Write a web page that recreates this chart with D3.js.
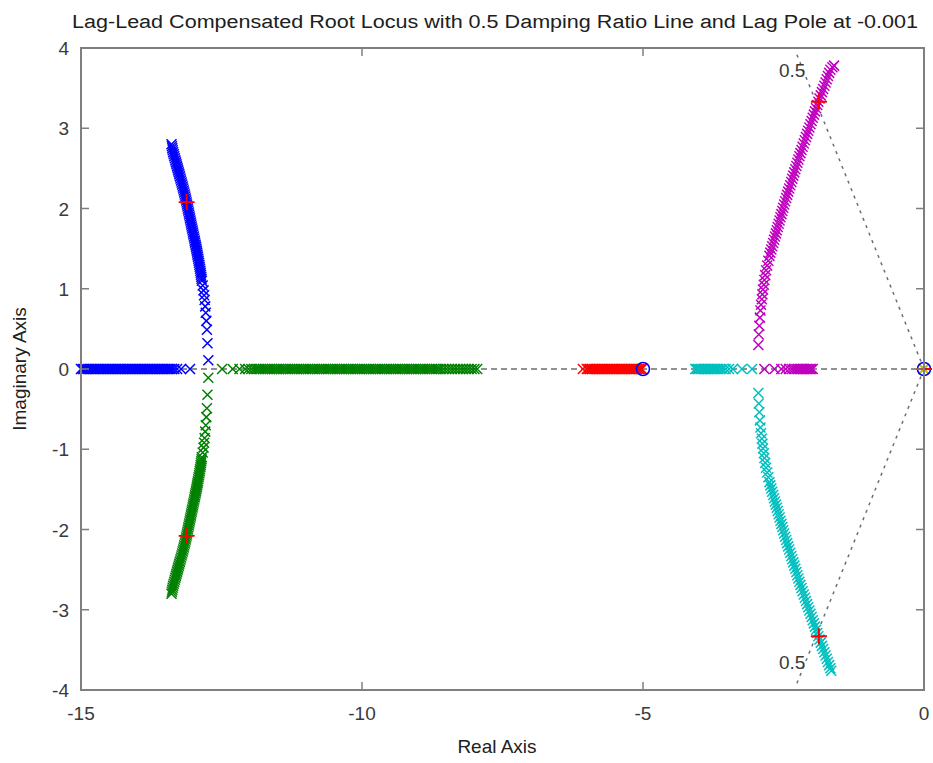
<!DOCTYPE html>
<html><head><meta charset="utf-8">
<script src="https://cdn.jsdelivr.net/npm/d3@7"></script>
<style>body{margin:0;background:#fff} text{font-family:"Liberation Sans",Arial,sans-serif}</style>
</head><body><svg id="c" width="933" height="763"></svg>
<script>
// ---------- data ----------
const titleText = "Lag-Lead Compensated Root Locus with 0.5 Damping Ratio Line and Lag Pole at -0.001";
const xLabel = "Real Axis";
const yLabel = "Imaginary Axis";
const xTicks = [-15, -10, -5, 0];
const yTicks = [-4, -3, -2, -1, 0, 1, 2, 3, 4];

// real-axis portions of the branches (real parts, imaginary = 0)
const blueRealAxis = [-15.00,-14.97,-14.94,-14.91,-14.88,-14.85,-14.82,-14.79,-14.76,-14.73,-14.70,-14.67,-14.64,-14.61,-14.58,-14.55,-14.52,-14.49,-14.46,-14.43,-14.40,-14.37,-14.34,-14.31,-14.28,-14.25,-14.22,-14.19,-14.16,-14.13,-14.10,-14.07,-14.04,-14.01,-13.98,-13.95,-13.92,-13.89,-13.86,-13.83,-13.80,-13.77,-13.74,-13.71,-13.68,-13.65,-13.62,-13.59,-13.56,-13.53,-13.50,-13.47,-13.44,-13.41,-13.38,-13.34,-13.29,-13.22,-13.06];
const greenRealAxis = [-12.49,-12.30,-12.18,-12.08,-12.02,-11.97,-11.92,-11.88,-11.84,-11.80,-11.76,-11.72,-11.68,-11.64,-11.60,-11.56,-11.52,-11.48,-11.44,-11.40,-11.36,-11.32,-11.28,-11.24,-11.20,-11.16,-11.12,-11.08,-11.04,-11.00,-10.96,-10.92,-10.88,-10.84,-10.80,-10.76,-10.72,-10.68,-10.64,-10.60,-10.56,-10.52,-10.48,-10.44,-10.40,-10.36,-10.32,-10.28,-10.24,-10.20,-10.16,-10.12,-10.08,-10.04,-10.00,-9.96,-9.92,-9.88,-9.84,-9.80,-9.76,-9.72,-9.68,-9.64,-9.60,-9.56,-9.52,-9.48,-9.44,-9.40,-9.36,-9.32,-9.28,-9.24,-9.20,-9.16,-9.12,-9.08,-9.04,-9.00,-8.96,-8.92,-8.88,-8.84,-8.80,-8.76,-8.72,-8.68,-8.64,-8.60,-8.55,-8.50,-8.45,-8.40,-8.35,-8.30,-8.25,-8.20,-8.15,-8.10,-8.05,-8.00,-7.95];
const redRealAxis = [-6.07,-6.00,-5.97,-5.94,-5.91,-5.88,-5.85,-5.82,-5.79,-5.76,-5.73,-5.70,-5.67,-5.64,-5.61,-5.58,-5.55,-5.52,-5.49,-5.46,-5.43,-5.40,-5.37,-5.34,-5.31,-5.28,-5.25,-5.22,-5.19,-5.16,-5.13,-5.10,-5.07,-5.04,-5.02];
const cyanRealAxis = [-4.07,-4.045,-4.02,-3.995,-3.97,-3.945,-3.92,-3.895,-3.87,-3.845,-3.82,-3.795,-3.77,-3.745,-3.72,-3.69,-3.66,-3.62,-3.58,-3.53,-3.47,-3.40,-3.24,-3.06];
const magentaRealAxis = [-2.84,-2.66,-2.54,-2.46,-2.40,-2.35,-2.31,-2.27,-2.24,-2.21,-2.18,-2.155,-2.13,-2.105,-2.08,-2.055,-2.03,-2.005,-1.98];
const yellowRealAxis = [-0.001,-0.004,-0.008];

// complex portions [real, imag]
const blueComplex = [[-12.735,0.11],[-12.75,0.32],[-12.76,0.49],[-12.77,0.60],[-12.78,0.70],[-12.79,0.78],[-12.80,0.86],[-12.81,0.92],[-12.82,0.98],[-12.835,1.04],[-12.85,1.10],
 [-12.855,1.125],[-12.86,1.15],[-12.865,1.175],[-12.87,1.20],[-12.876,1.225],[-12.882,1.25],[-12.888,1.275],[-12.894,1.30],[-12.90,1.325],[-12.907,1.35],[-12.913,1.375],[-12.92,1.40],[-12.927,1.425],[-12.933,1.45],[-12.94,1.475],[-12.947,1.50],[-12.954,1.525],[-12.962,1.55],[-12.97,1.575],[-12.977,1.60],[-12.984,1.625],[-12.992,1.65],[-13.0,1.675],[-13.007,1.70],[-13.014,1.725],[-13.022,1.75],[-13.03,1.775],[-13.037,1.80],[-13.044,1.825],[-13.052,1.85],[-13.06,1.875],[-13.067,1.90],[-13.075,1.925],[-13.082,1.95],[-13.09,1.975],[-13.097,2.00],[-13.105,2.025],[-13.112,2.05],[-13.12,2.075],[-13.128,2.10],[-13.136,2.125],[-13.145,2.15],[-13.154,2.175],[-13.163,2.20],[-13.172,2.225],[-13.181,2.25],[-13.19,2.275],[-13.20,2.30],[-13.21,2.325],[-13.22,2.35],[-13.23,2.375],[-13.24,2.40],[-13.25,2.425],[-13.26,2.45],[-13.27,2.475],[-13.28,2.50],[-13.29,2.525],[-13.30,2.55],[-13.31,2.575],[-13.32,2.60],[-13.33,2.625],[-13.34,2.65],[-13.35,2.675],[-13.36,2.70],[-13.368,2.725],[-13.376,2.75],[-13.383,2.775],[-13.39,2.80]];
const greenComplex = [[-12.735,-0.11],[-12.75,-0.32],[-12.76,-0.49],[-12.77,-0.60],[-12.78,-0.70],[-12.79,-0.78],[-12.80,-0.86],[-12.81,-0.92],[-12.82,-0.98],[-12.835,-1.04],[-12.85,-1.10],
 [-12.855,-1.125],[-12.86,-1.15],[-12.865,-1.175],[-12.87,-1.20],[-12.876,-1.225],[-12.882,-1.25],[-12.888,-1.275],[-12.894,-1.30],[-12.90,-1.325],[-12.907,-1.35],[-12.913,-1.375],[-12.92,-1.40],[-12.927,-1.425],[-12.933,-1.45],[-12.94,-1.475],[-12.947,-1.50],[-12.954,-1.525],[-12.962,-1.55],[-12.97,-1.575],[-12.977,-1.60],[-12.984,-1.625],[-12.992,-1.65],[-13.0,-1.675],[-13.007,-1.70],[-13.014,-1.725],[-13.022,-1.75],[-13.03,-1.775],[-13.037,-1.80],[-13.044,-1.825],[-13.052,-1.85],[-13.06,-1.875],[-13.067,-1.90],[-13.075,-1.925],[-13.082,-1.95],[-13.09,-1.975],[-13.097,-2.00],[-13.105,-2.025],[-13.112,-2.05],[-13.12,-2.075],[-13.128,-2.10],[-13.136,-2.125],[-13.145,-2.15],[-13.154,-2.175],[-13.163,-2.20],[-13.172,-2.225],[-13.181,-2.25],[-13.19,-2.275],[-13.20,-2.30],[-13.21,-2.325],[-13.22,-2.35],[-13.23,-2.375],[-13.24,-2.40],[-13.25,-2.425],[-13.26,-2.45],[-13.27,-2.475],[-13.28,-2.50],[-13.29,-2.525],[-13.30,-2.55],[-13.31,-2.575],[-13.32,-2.60],[-13.33,-2.625],[-13.34,-2.65],[-13.35,-2.675],[-13.36,-2.70],[-13.368,-2.725],[-13.376,-2.75],[-13.383,-2.775],[-13.39,-2.80]];
const cyanComplex = [[-2.948,-0.30],[-2.94,-0.43],[-2.93,-0.54],[-2.92,-0.64],[-2.91,-0.73],[-2.90,-0.80],[-2.885,-0.87],[-2.875,-0.93],[-2.865,-0.99],[-2.85,-1.05],[-2.84,-1.11],[-2.825,-1.17],[-2.81,-1.23],[-2.79,-1.29],[-2.77,-1.35],[-2.75,-1.41],
 [-2.734,-1.45],[-2.717,-1.49],[-2.701,-1.53],[-2.684,-1.57],[-2.668,-1.61],[-2.652,-1.65],[-2.635,-1.69],[-2.619,-1.73],[-2.603,-1.77],[-2.586,-1.81],[-2.57,-1.85],[-2.554,-1.89],[-2.537,-1.93],[-2.521,-1.97],[-2.505,-2.01],[-2.488,-2.05],
 [-2.471,-2.09],[-2.453,-2.13],[-2.435,-2.17],[-2.417,-2.21],[-2.399,-2.25],[-2.38,-2.29],[-2.362,-2.33],[-2.344,-2.37],[-2.326,-2.41],[-2.308,-2.45],[-2.29,-2.49],[-2.271,-2.53],[-2.253,-2.57],[-2.235,-2.61],[-2.217,-2.65],[-2.199,-2.69],
 [-2.18,-2.73],[-2.16,-2.77],[-2.14,-2.81],[-2.12,-2.85],[-2.10,-2.89],[-2.08,-2.93],[-2.06,-2.97],[-2.04,-3.01],[-2.02,-3.05],[-2.00,-3.09],[-1.98,-3.13],[-1.96,-3.17],[-1.94,-3.21],[-1.92,-3.25],[-1.90,-3.29],[-1.88,-3.33],
 [-1.859,-3.37],[-1.837,-3.41],[-1.816,-3.45],[-1.795,-3.49],[-1.773,-3.53],[-1.752,-3.57],[-1.73,-3.61],[-1.709,-3.65],[-1.688,-3.69],[-1.666,-3.73],[-1.65,-3.76]];
const magentaComplex = [[-2.948,0.30],[-2.94,0.43],[-2.93,0.54],[-2.92,0.64],[-2.91,0.73],[-2.90,0.80],[-2.885,0.87],[-2.875,0.93],[-2.865,0.99],[-2.85,1.05],[-2.84,1.11],[-2.825,1.17],[-2.81,1.23],[-2.79,1.29],[-2.77,1.35],[-2.75,1.41],
 [-2.734,1.45],[-2.717,1.49],[-2.701,1.53],[-2.684,1.57],[-2.668,1.61],[-2.652,1.65],[-2.635,1.69],[-2.619,1.73],[-2.603,1.77],[-2.586,1.81],[-2.57,1.85],[-2.554,1.89],[-2.537,1.93],[-2.521,1.97],[-2.505,2.01],[-2.488,2.05],
 [-2.471,2.09],[-2.453,2.13],[-2.435,2.17],[-2.417,2.21],[-2.399,2.25],[-2.38,2.29],[-2.362,2.33],[-2.344,2.37],[-2.326,2.41],[-2.308,2.45],[-2.29,2.49],[-2.271,2.53],[-2.253,2.57],[-2.235,2.61],[-2.217,2.65],[-2.199,2.69],
 [-2.18,2.73],[-2.16,2.77],[-2.14,2.81],[-2.12,2.85],[-2.10,2.89],[-2.08,2.93],[-2.06,2.97],[-2.04,3.01],[-2.02,3.05],[-2.00,3.09],[-1.98,3.13],[-1.96,3.17],[-1.94,3.21],[-1.92,3.25],[-1.90,3.29],[-1.88,3.33],
 [-1.859,3.37],[-1.837,3.41],[-1.816,3.45],[-1.795,3.49],[-1.773,3.53],[-1.752,3.57],[-1.73,3.61],[-1.709,3.65],[-1.688,3.69],[-1.666,3.73],[-1.63,3.76],[-1.60,3.78]];

const openLoopZeros = [[-5, 0], [0, 0]];
const designPoints = [[-13.12, 2.08], [-13.12, -2.08], [-1.87, 3.33], [-1.87, -3.33], [0, 0]];
const dampingRatio = 0.5;
const dampingRadius = 4.55;
const dampingLabel = "0.5";

const branchColors = {blue:"#0000ff", green:"#008000", red:"#ff0000", cyan:"#00bfbf", magenta:"#bf00bf", yellow:"#bfbf00"};

// ---------- drawing ----------
const svg = d3.select("#c");
const x = d3.scaleLinear().domain([-15, 0]).range([81, 924]);
const y = d3.scaleLinear().domain([-4, 4]).range([690, 48]);
const axisColor = "#7f7f7f";
const textColor = "#3a3a3a";

svg.append("rect").attr("width",933).attr("height",763).attr("fill","#fff");

// real axis dashed line
svg.append("line").attr("x1", x(-15)).attr("x2", x(0)).attr("y1", y(0)).attr("y2", y(0))
  .attr("stroke","#6e6e6e").attr("stroke-width",1.5).attr("stroke-dasharray","6,4");

// damping ratio lines
const dRe = -dampingRadius*dampingRatio, dIm = dampingRadius*Math.sqrt(1-dampingRatio*dampingRatio);
[1,-1].forEach(s=>{
  svg.append("line").attr("x1", x(0)).attr("y1", y(0)).attr("x2", x(dRe)).attr("y2", y(s*dIm))
    .attr("stroke","#6e6e6e").attr("stroke-width",1.5).attr("stroke-dasharray","3,5");
});
svg.append("text").attr("x", x(dRe)-4).attr("y", y(dIm)+24).attr("font-size",19).attr("fill",textColor)
  .attr("text-anchor","middle").text(dampingLabel);
svg.append("text").attr("x", x(dRe)-4).attr("y", y(-dIm)-16).attr("font-size",19).attr("fill",textColor)
  .attr("text-anchor","middle").text(dampingLabel);

const xPath = "M-5,-5L5,5M-5,5L5,-5";
function drawX(pts, color){
  svg.append("g").selectAll("path").data(pts).join("path")
    .attr("d", xPath).attr("transform", d=>`translate(${x(d[0])},${y(d[1])})`)
    .attr("fill","none").attr("stroke", color).attr("stroke-width",1.5);
}
drawX(blueRealAxis.map(v=>[v,0]), branchColors.blue);
drawX(blueComplex, branchColors.blue);
drawX(greenRealAxis.map(v=>[v,0]), branchColors.green);
drawX(greenComplex, branchColors.green);
drawX(redRealAxis.map(v=>[v,0]), branchColors.red);
drawX(cyanRealAxis.map(v=>[v,0]), branchColors.cyan);
drawX(cyanComplex, branchColors.cyan);
drawX(magentaRealAxis.map(v=>[v,0]), branchColors.magenta);
drawX(magentaComplex, branchColors.magenta);
drawX(yellowRealAxis.map(v=>[v,0]), branchColors.yellow);

// zeros
svg.append("g").selectAll("circle").data(openLoopZeros).join("circle")
  .attr("cx", d=>x(d[0])).attr("cy", d=>y(d[1])).attr("r",6.5)
  .attr("fill","none").attr("stroke","#0000ff").attr("stroke-width",1.6);

// design points
svg.append("g").selectAll("path").data(designPoints).join("path")
  .attr("d","M-8,0H8M0,-8V8").attr("transform", d=>`translate(${x(d[0])},${y(d[1])})`)
  .attr("stroke","#ff0000").attr("stroke-width",1.8).attr("fill","none");

// axes box & ticks
svg.append("rect").attr("x", x(-15)).attr("y", y(4)).attr("width", x(0)-x(-15)).attr("height", y(-4)-y(4))
  .attr("fill","none").attr("stroke",axisColor).attr("stroke-width",2);
const tl = 8;
xTicks.forEach(t=>{
  svg.append("line").attr("x1",x(t)).attr("x2",x(t)).attr("y1",y(-4)).attr("y2",y(-4)-tl).attr("stroke",axisColor).attr("stroke-width",1.5);
  svg.append("line").attr("x1",x(t)).attr("x2",x(t)).attr("y1",y(4)).attr("y2",y(4)+tl).attr("stroke",axisColor).attr("stroke-width",1.5);
  svg.append("text").attr("x",x(t)).attr("y",y(-4)+30).attr("text-anchor","middle").attr("font-size",19)
    .attr("fill",textColor).text(t);
});
yTicks.forEach(t=>{
  svg.append("line").attr("x1",x(-15)).attr("x2",x(-15)+tl).attr("y1",y(t)).attr("y2",y(t)).attr("stroke",axisColor).attr("stroke-width",1.5);
  svg.append("line").attr("x1",x(0)).attr("x2",x(0)-tl).attr("y1",y(t)).attr("y2",y(t)).attr("stroke",axisColor).attr("stroke-width",1.5);
  svg.append("text").attr("x",x(-15)-12).attr("y",y(t)+7).attr("text-anchor","end").attr("font-size",19)
    .attr("fill",textColor).text(t);
});

// labels
svg.append("text").attr("x",495).attr("y",28).attr("text-anchor","middle").attr("font-size",18)
  .attr("fill","#202020").attr("textLength",846).attr("lengthAdjust","spacingAndGlyphs").text(titleText);
svg.append("text").attr("x",497).attr("y",753).attr("text-anchor","middle").attr("font-size",19)
  .attr("fill","#202020").text(xLabel);
svg.append("text").attr("transform","translate(26,369) rotate(-90)").attr("text-anchor","middle").attr("font-size",19)
  .attr("fill","#202020").text(yLabel);
</script></body></html>
